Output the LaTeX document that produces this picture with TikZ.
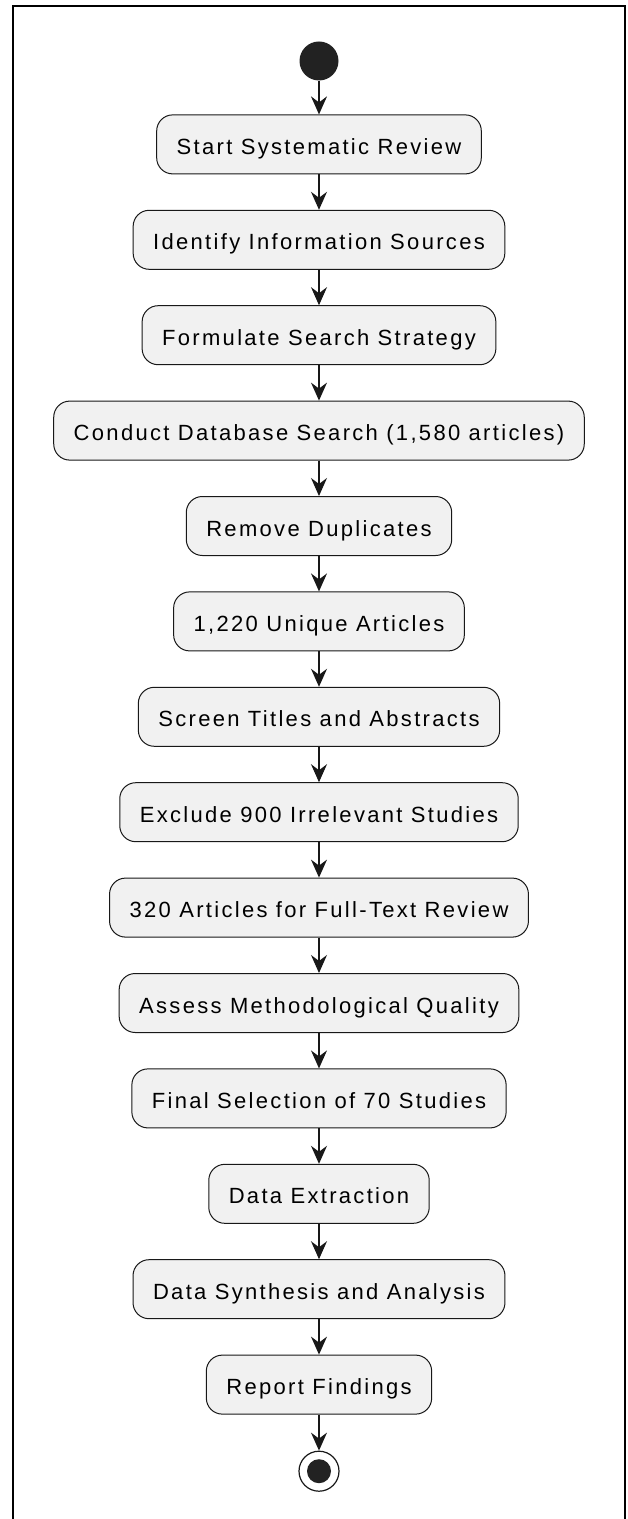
\documentclass[tikz,border=0pt]{standalone}
\usepackage{fontspec}
\setmainfont{Liberation Sans}[LetterSpace=10.5]
\usepackage{tikz}
\usetikzlibrary{arrows.meta,positioning}
\definecolor{actfill}{HTML}{F1F1F1}
\definecolor{actline}{HTML}{181818}
\definecolor{dotfill}{HTML}{222222}

\begin{document}
\begin{tikzpicture}[
    node distance=17.7pt,
    activity/.style={rectangle, rounded corners=8pt, draw=actline, line width=0.5pt, fill=actfill, minimum height=29.5pt, inner xsep=10pt, font=\fontsize{11}{13}\selectfont, text height=10pt, text depth=0pt},
    startdot/.style={circle, fill=dotfill, minimum size=19.5pt, inner sep=0pt},
    enddot/.style={circle, draw=actline, line width=0.6pt, fill=white, minimum size=20pt, inner sep=0pt},
    flow/.style={draw=actline, line width=0.6pt, -{Stealth[length=9pt,width=8pt,inset=3pt]}}
]
\useasboundingbox (-159.5pt,30.5pt) rectangle (154pt,-729pt);
\draw[line width=1pt] (-153pt,27.5pt) rectangle (153pt,-740pt);

\node[startdot] (start) {};
\node[activity, below=16.75pt of start] (begin) {Start Systematic Review};
\node[activity, below=of begin] (sources) {Identify Information Sources};
\node[activity, below=of sources] (strategy) {Formulate Search Strategy};
\node[activity, below=of strategy] (search) {Conduct Database Search (1,580 articles)};
\node[activity, below=of search] (dedup) {Remove Duplicates};
\node[activity, below=of dedup] (unique) {1,220 Unique Articles};
\node[activity, below=of unique] (screen) {Screen Titles and Abstracts};
\node[activity, below=of screen] (exclude) {Exclude 900 Irrelevant Studies};
\node[activity, below=of exclude] (fulltext) {320 Articles for Full-Text Review};
\node[activity, below=of fulltext] (quality) {Assess Methodological Quality};
\node[activity, below=of quality] (selection) {Final Selection of 70 Studies};
\node[activity, below=of selection] (extract) {Data Extraction};
\node[activity, below=of extract] (synthesis) {Data Synthesis and Analysis};
\node[activity, below=of synthesis] (report) {Report Findings};
\node[enddot, below=18pt of report] (stop) {};
\fill[dotfill] (stop) circle (6pt);

\draw[flow] (start) -- (begin);
\draw[flow] (begin) -- (sources);
\draw[flow] (sources) -- (strategy);
\draw[flow] (strategy) -- (search);
\draw[flow] (search) -- (dedup);
\draw[flow] (dedup) -- (unique);
\draw[flow] (unique) -- (screen);
\draw[flow] (screen) -- (exclude);
\draw[flow] (exclude) -- (fulltext);
\draw[flow] (fulltext) -- (quality);
\draw[flow] (quality) -- (selection);
\draw[flow] (selection) -- (extract);
\draw[flow] (extract) -- (synthesis);
\draw[flow] (synthesis) -- (report);
\draw[flow] (report) -- (stop);
\end{tikzpicture}
\end{document}
